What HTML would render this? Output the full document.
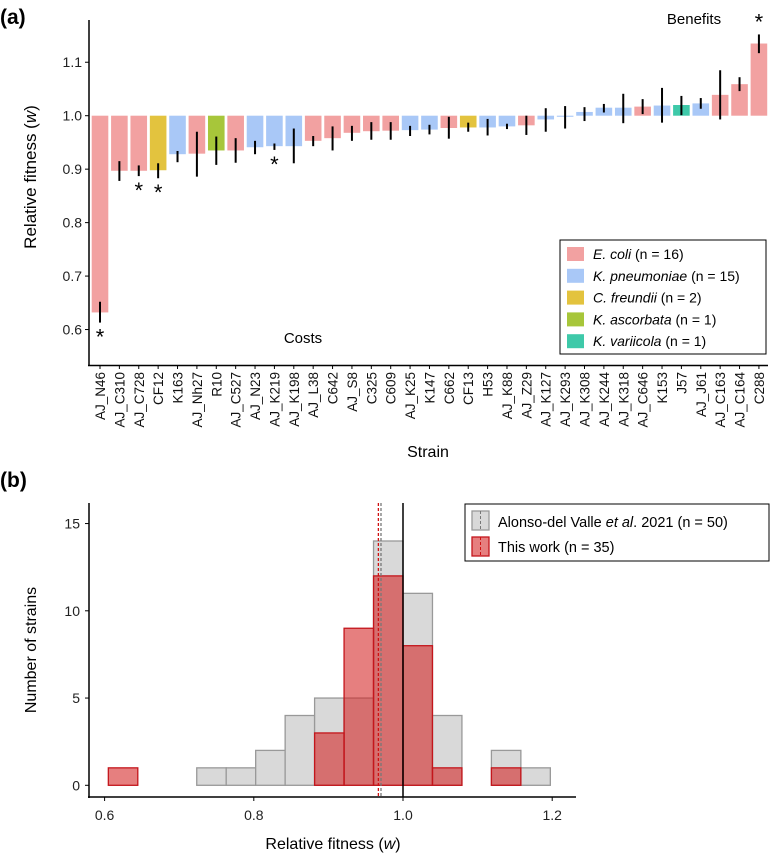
<!DOCTYPE html>
<html><head><meta charset="utf-8"><style>
body{margin:0;background:#fff}
svg{display:block;font-family:"Liberation Sans",Arial,sans-serif}
</style></head><body>
<svg id="fig" width="771" height="856" viewBox="0 0 771 856" xmlns="http://www.w3.org/2000/svg">
<text x="0" y="24" font-size="21" font-weight="bold">(a)</text>
<text x="0" y="487" font-size="21" font-weight="bold">(b)</text>
<g id="pa"></g>
<g id="pb"></g>
</svg>
<script>
const strains=["AJ_N46","AJ_C310","AJ_C728","CF12","K163","AJ_Nh27","R10","AJ_C527","AJ_N23","AJ_K219","AJ_K198","AJ_L38","C642","AJ_S8","C325","C609","AJ_K25","K147","C662","CF13","H53","AJ_K88","AJ_Z29","AJ_K127","AJ_K293","AJ_K308","AJ_K244","AJ_K318","AJ_C646","K153","J57","AJ_J61","AJ_C163","AJ_C164","C288"];
const species=["ec","ec","ec","cf","kp","ec","ka","ec","kp","kp","kp","ec","ec","ec","ec","ec","kp","kp","ec","cf","kp","kp","ec","kp","kp","kp","kp","kp","ec","kp","kv","kp","ec","ec","ec"];
const fitness=[0.632,0.897,0.897,0.898,0.928,0.929,0.935,0.935,0.941,0.943,0.943,0.953,0.958,0.968,0.971,0.972,0.973,0.974,0.977,0.978,0.978,0.980,0.982,0.993,0.998,1.007,1.015,1.015,1.017,1.019,1.020,1.023,1.039,1.059,1.135];
const errHi=[0.652,0.915,0.907,0.911,0.934,0.970,0.961,0.958,0.953,0.948,0.976,0.962,0.980,0.981,0.988,0.988,0.981,0.983,0.998,0.987,0.994,0.985,1.000,1.014,1.018,1.016,1.022,1.041,1.031,1.052,1.037,1.033,1.085,1.072,1.152];
const errLo=[0.613,0.878,0.887,0.883,0.913,0.886,0.908,0.912,0.928,0.936,0.911,0.943,0.935,0.953,0.955,0.955,0.962,0.965,0.957,0.970,0.963,0.975,0.964,0.970,0.976,0.990,1.006,0.986,1.003,0.987,1.001,1.013,0.993,1.046,1.117];
const signif=[0,2,3,9,34];
const yTicksA=[0.6,0.7,0.8,0.9,1.0,1.1];
const legendA=[["ec","E. coli"," (n = 16)"],["kp","K. pneumoniae"," (n = 15)"],["cf","C. freundii"," (n = 2)"],["ka","K. ascorbata"," (n = 1)"],["kv","K. variicola"," (n = 1)"]];
const colors={ec:"#f2a1a1",kp:"#a9c8f7",cf:"#e3c33e",ka:"#a7c63a",kv:"#3ec9a9"};

const binLeft=[0.605,0.6445,0.684,0.7235,0.763,0.8025,0.842,0.8815,0.921,0.9605,1.0,1.0395,1.079,1.1185,1.158];
const grayCounts=[0,0,0,1,1,2,4,5,5,14,11,4,0,2,1];
const redCounts=[1,0,0,0,0,0,0,3,9,12,8,1,0,1,0];
const binWidth=0.0395;
const meanGray=0.9705, meanRed=0.967;
const xTicksB=[0.6,0.8,1.0,1.2];
const yTicksB=[0,5,10,15];

const NS="http://www.w3.org/2000/svg";
function mk(p,t,a){const e=document.createElementNS(NS,t);for(const k in a)e.setAttribute(k,a[k]);p.appendChild(e);return e;}
// Panel A
const pa=document.getElementById('pa');
const yA=v=>115.7-(v-1)*534.6;
const xA=i=>100+i*19.38;
const bw=16.6;
strains.forEach((s,i)=>{
  const v=fitness[i];
  const r=mk(pa,'rect',{x:xA(i)-bw/2,y:Math.min(yA(v),yA(1)),width:bw,height:Math.abs(yA(v)-yA(1)),fill:colors[species[i]]});
  
  
  const l=mk(pa,'line',{x1:xA(i),x2:xA(i),y1:yA(errHi[i]),y2:yA(errLo[i]),stroke:'#000','stroke-width':2});
  
  
  mk(pa,'line',{x1:xA(i),x2:xA(i),y1:365,y2:369,stroke:'#000','stroke-width':1});
  const t=mk(pa,'text',{x:0,y:0,'font-size':13.5,'text-anchor':'end',transform:`translate(${xA(i)+5},372) rotate(-90)`,fill:'#111'});
  t.textContent=s;
  
  
});
signif.forEach(i=>{
  const v=fitness[i];
  const y=v>1?yA(errHi[i])-5:yA(errLo[i])+22;
  const t=mk(pa,'text',{x:xA(i),y:y,'font-size':22,'text-anchor':'middle'});
  t.textContent='*';
  
  
});
mk(pa,'line',{x1:89,x2:89,y1:20,y2:366,stroke:'#000','stroke-width':1.5});
mk(pa,'line',{x1:88,x2:768,y1:365.5,y2:365.5,stroke:'#000','stroke-width':1.5});
yTicksA.forEach(v=>{
  mk(pa,'line',{x1:85,x2:89,y1:yA(v),y2:yA(v),stroke:'#000'});
  const t=mk(pa,'text',{x:82,y:yA(v)+5,'font-size':14,'text-anchor':'end',fill:'#222'});
  t.textContent=v.toFixed(1);
  
  
});
let t=mk(pa,'text',{x:0,y:0,'font-size':17,'text-anchor':'middle',transform:'translate(36,177) rotate(-90)'});
t.innerHTML='Relative fitness (<tspan font-style="italic">w</tspan>)';

t=mk(pa,'text',{x:428,y:457,'font-size':16,'text-anchor':'middle'});t.textContent='Strain';

t=mk(pa,'text',{x:694,y:24,'font-size':15,'text-anchor':'middle'});t.textContent='Benefits';

t=mk(pa,'text',{x:303,y:343,'font-size':15,'text-anchor':'middle'});t.textContent='Costs';

const lg=mk(pa,'g',{});
mk(lg,'rect',{x:560,y:240,width:206,height:114,fill:'#fff',stroke:'#000','stroke-width':1});
legendA.forEach((e,k)=>{
  const y=254+k*21.8;
  mk(lg,'rect',{x:567,y:y-7,width:17,height:14,fill:colors[e[0]]});
  const tt=mk(lg,'text',{x:593,y:y+5,'font-size':14});
  tt.innerHTML=`<tspan font-style="italic">${e[1]}</tspan>${e[2]}`;
  
});
// Panel B
const pb=document.getElementById('pb');
const xB=v=>403+(v-1)*746;
const yB=c=>785.3-c*17.45;
binLeft.forEach((b,i)=>{
  if(grayCounts[i]>0){const r=mk(pb,'rect',{x:xB(b),y:yB(grayCounts[i]),width:xB(b+binWidth)-xB(b),height:yB(0)-yB(grayCounts[i]),fill:'#d9d9d9',stroke:'#999','stroke-width':1.3});
  }
});
binLeft.forEach((b,i)=>{
  if(redCounts[i]>0){const r=mk(pb,'rect',{x:xB(b),y:yB(redCounts[i]),width:xB(b+binWidth)-xB(b),height:yB(0)-yB(redCounts[i]),fill:'rgba(212,35,35,0.58)',stroke:'#c4161c','stroke-width':1.3});
  }
});
mk(pb,'line',{x1:xB(1),x2:xB(1),y1:503,y2:797,stroke:'#000','stroke-width':1.5});
mk(pb,'line',{x1:xB(meanGray),x2:xB(meanGray),y1:503,y2:797,stroke:'#777','stroke-width':1.3,'stroke-dasharray':'3,2'});
mk(pb,'line',{x1:xB(meanRed),x2:xB(meanRed),y1:503,y2:797,stroke:'#d01010','stroke-width':1.3,'stroke-dasharray':'3,2'});
mk(pb,'line',{x1:89,x2:89,y1:503,y2:798,stroke:'#000','stroke-width':1.5});
mk(pb,'line',{x1:88,x2:576,y1:797,y2:797,stroke:'#000','stroke-width':1.5});
xTicksB.forEach(v=>{
  mk(pb,'line',{x1:xB(v),x2:xB(v),y1:797,y2:801,stroke:'#000'});
  const tt=mk(pb,'text',{x:xB(v),y:820,'font-size':14,'text-anchor':'middle',fill:'#222'});tt.textContent=v.toFixed(1);
  
});
yTicksB.forEach(v=>{
  mk(pb,'line',{x1:85,x2:89,y1:yB(v),y2:yB(v),stroke:'#000'});
  const tt=mk(pb,'text',{x:80,y:yB(v)+5,'font-size':14,'text-anchor':'end',fill:'#222'});tt.textContent=v;
  
});
t=mk(pb,'text',{x:0,y:0,'font-size':16,'text-anchor':'middle',transform:'translate(36,650) rotate(-90)'});t.textContent='Number of strains';

t=mk(pb,'text',{x:333,y:849,'font-size':16,'text-anchor':'middle'});t.innerHTML='Relative fitness (<tspan font-style="italic">w</tspan>)';

const lb=mk(pb,'g',{});
mk(lb,'rect',{x:465,y:504,width:304,height:57,fill:'#fff',stroke:'#000','stroke-width':1});
mk(lb,'rect',{x:472,y:511,width:17,height:19,fill:'#d9d9d9',stroke:'#999','stroke-width':1.3});
mk(lb,'line',{x1:480.5,x2:480.5,y1:511,y2:530,stroke:'#777','stroke-dasharray':'3,2'});
mk(lb,'rect',{x:472,y:537,width:17,height:19,fill:'rgba(212,35,35,0.58)',stroke:'#c4161c','stroke-width':1.3});
mk(lb,'line',{x1:480.5,x2:480.5,y1:537,y2:556,stroke:'#d01010','stroke-dasharray':'3,2'});
t=mk(lb,'text',{x:498,y:527,'font-size':14.5});t.innerHTML='Alonso-del Valle <tspan font-style="italic">et al</tspan>. 2021 (n = 50)';

t=mk(lb,'text',{x:498,y:552,'font-size':14.5});t.textContent='This work (n = 35)';

</script>
</body></html>
